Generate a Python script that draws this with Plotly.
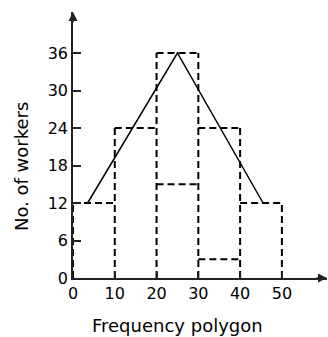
import plotly.graph_objects as go

# ---- data ----
edges = [0, 10, 20, 30, 40, 50]
workers = [12, 24, 36, 24, 12]
inner_lo = [20, 30]
inner_hi = [30, 40]
inner_level = [15, 3]
poly_x = [3.5, 25, 45.5]
poly_y = [12, 36, 12]
y_ticks = [0, 6, 12, 18, 24, 30, 36]
x_ticks = [0, 10, 20, 30, 40, 50]

# build dashed histogram outline from data
bx, by = [], []
for k, e in enumerate(edges):
    left = workers[k - 1] if k > 0 else 0
    right = workers[k] if k < len(workers) else 0
    bx += [e, e, None]
    by += [0, max(left, right), None]
for i, h in enumerate(workers):
    bx += [edges[i], edges[i + 1], None]
    by += [h, h, None]
for a, b, lv in zip(inner_lo, inner_hi, inner_level):
    bx += [a, b, None]
    by += [lv, lv, None]

FONT = "DejaVu Sans"

fig = go.Figure()
fig.add_trace(go.Scatter(x=bx, y=by, mode="lines",
                         line=dict(color="black", width=2, dash="7px,4px"),
                         hoverinfo="skip", showlegend=False))
fig.add_trace(go.Scatter(x=poly_x, y=poly_y, mode="lines",
                         line=dict(color="black", width=1.5),
                         showlegend=False))

fig.update_layout(
    width=328, height=337,
    margin=dict(l=73, r=1, t=12, b=59),
    plot_bgcolor="white", paper_bgcolor="white",
    font=dict(family=FONT, size=16, color="black"),
    xaxis=dict(range=[0, 60.8], showline=True, linecolor="#222", linewidth=1.5,
               ticks="inside", ticklen=6, tickcolor="#222", tickwidth=1.5,
               tickvals=x_ticks, ticktext=[str(v) for v in x_ticks],
               showgrid=False, zeroline=False,
               tickfont=dict(family=FONT, size=16, color="black")),
    yaxis=dict(range=[0, 42.56], showline=True, linecolor="#222", linewidth=1.5,
               ticks="inside", ticklen=8, tickcolor="#222", tickwidth=1.5,
               tickvals=y_ticks, ticktext=[str(v) for v in y_ticks],
               showgrid=False, zeroline=False,
               tickfont=dict(family=FONT, size=16, color="black")),
    annotations=[
        dict(x=1, y=0, xref="paper", yref="paper", ax=-12, ay=0, text="",
             showarrow=True, arrowhead=2, arrowsize=1.2, arrowwidth=1.5, arrowcolor="#222"),
        dict(x=0, y=1, xref="paper", yref="paper", ax=0, ay=12, text="",
             showarrow=True, arrowhead=2, arrowsize=1.2, arrowwidth=1.5, arrowcolor="#222"),
        dict(x=-0.2047, y=0.417, xref="paper", yref="paper", text="No. of workers",
             textangle=-90, showarrow=False, xanchor="center", yanchor="middle",
             font=dict(family=FONT, size=18, color="black")),
        dict(x=0.413, y=-0.177, xref="paper", yref="paper", text="Frequency polygon",
             showarrow=False, xanchor="center", yanchor="middle",
             font=dict(family=FONT, size=18, color="black")),
    ],
)

fig.write_html("out.html", config={"displayModeBar": False},
               post_script="document.body.style.margin='0';")
